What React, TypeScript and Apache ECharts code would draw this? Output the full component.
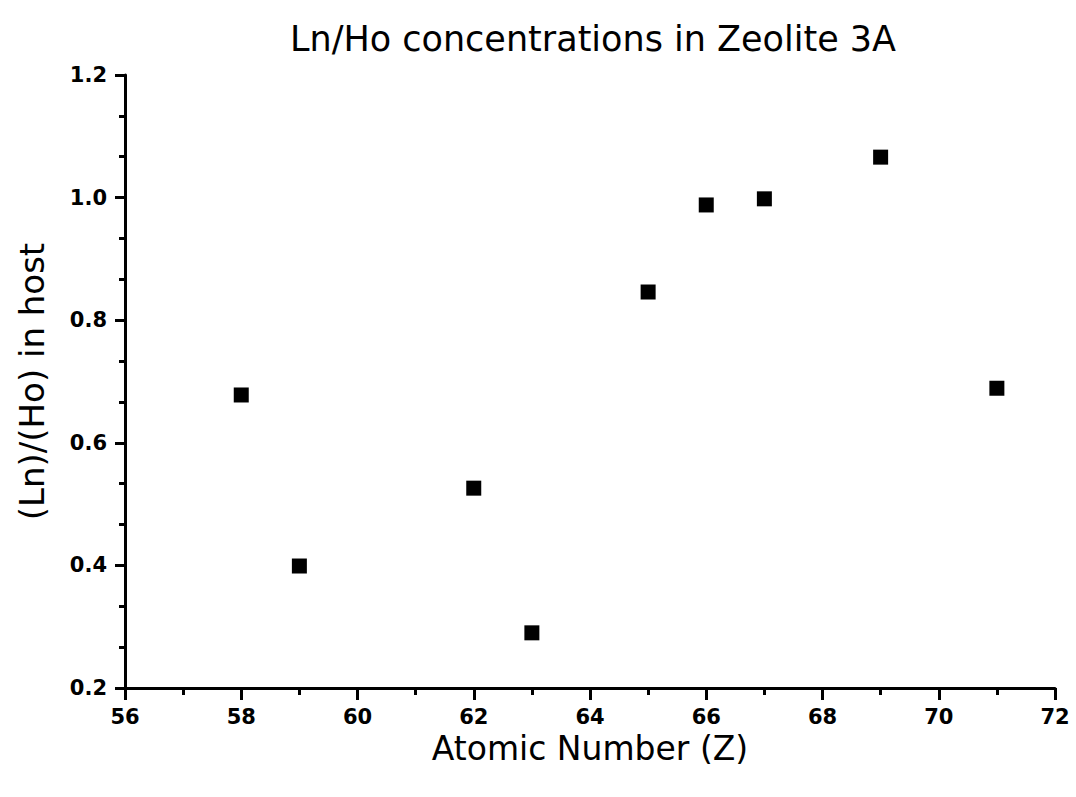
import React, { useEffect, useRef } from "react";
import * as echarts from "echarts";

const atomicNumbers = [58, 59, 62, 63, 65, 66, 67, 69, 71];
const ratios = [0.678, 0.399, 0.526, 0.29, 0.846, 0.988, 0.998, 1.066, 0.689];
const titleText = "Ln/Ho concentrations in Zeolite 3A";
const xName = "Atomic Number (Z)";
const yName = "(Ln)/(Ho) in host";

export default function App() {
  const ref = useRef<HTMLDivElement>(null);
  useEffect(() => {
    if (!ref.current) return;
    const chart = echarts.init(ref.current, null, { renderer: "svg" });
    const data = atomicNumbers.map((x, i) => [x, ratios[i]]);
    chart.setOption({
      animation: false,
      backgroundColor: "#ffffff",
      title: {
        text: titleText,
        left: 588,
        textAlign: "center",
        top: 16,
        textStyle: { fontFamily: "DejaVu Sans", fontSize: 35, fontWeight: "normal", color: "#000" },
      },
      grid: { left: 125, right: 21, top: 75, bottom: 109 },
      xAxis: {
        type: "value",
        min: 56,
        max: 72,
        interval: 2,
        name: xName,
        nameLocation: "middle",
        nameGap: 42,
        nameTextStyle: { fontFamily: "DejaVu Sans", fontSize: 33, color: "#000" },
        axisLine: { show: true, onZero: false, lineStyle: { color: "#000", width: 3 } },
        axisTick: { show: true, length: 12, lineStyle: { color: "#000", width: 3 } },
        minorTick: { show: true, splitNumber: 2, length: 7, lineStyle: { color: "#000", width: 3 } },
        splitLine: { show: false },
        axisLabel: {
          margin: 18,
          fontFamily: "DejaVu Sans",
          fontSize: 21,
          fontWeight: "bold",
          color: "#000",
        },
      },
      yAxis: {
        type: "value",
        min: 0.2,
        max: 1.2,
        interval: 0.2,
        name: yName,
        nameLocation: "middle",
        nameGap: 76,
        nameTextStyle: { fontFamily: "DejaVu Sans", fontSize: 34, color: "#000" },
        axisLine: { show: true, onZero: false, lineStyle: { color: "#000", width: 3 } },
        axisTick: { show: true, length: 10, lineStyle: { color: "#000", width: 3 } },
        minorTick: { show: true, splitNumber: 3, length: 6, lineStyle: { color: "#000", width: 3 } },
        splitLine: { show: false },
        axisLabel: {
          margin: 18,
          fontFamily: "DejaVu Sans",
          fontSize: 21,
          fontWeight: "bold",
          color: "#000",
          formatter: (v: number) => v.toFixed(1),
        },
      },
      series: [
        {
          type: "scatter",
          data,
          symbol: "rect",
          symbolSize: 15,
          itemStyle: { color: "#000", opacity: 1 },
        },
      ],
    });
    return () => chart.dispose();
  }, []);
  return <div ref={ref} style={{ width: 1076, height: 797, position: "absolute", left: 0, top: 0 }} />;
}
